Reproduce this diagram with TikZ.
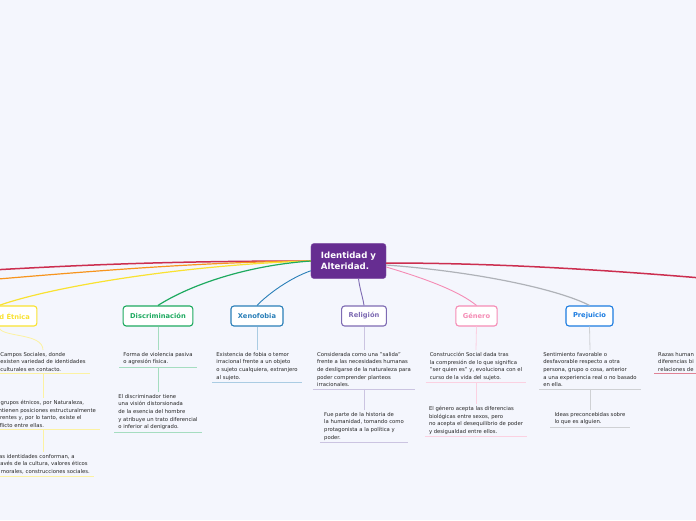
\documentclass[tikz,border=0pt]{standalone}
\usepackage{fontspec}
\setmainfont{DejaVu Sans}
\definecolor{bgcol}{HTML}{F4F6FD}
\definecolor{maincol}{HTML}{662D91}
\definecolor{redcol}{HTML}{CC2E4F}
\definecolor{orangecol}{HTML}{F7941D}
\definecolor{yellowcol}{HTML}{F9E231}
\definecolor{greencol}{HTML}{1EAA60}
\definecolor{bluecol}{HTML}{2A7FB8}
\definecolor{purplecol}{HTML}{7E6BB3}
\definecolor{pinkcol}{HTML}{F58CB5}
\definecolor{graycol}{HTML}{AFB2B8}
\definecolor{prejcol}{HTML}{1C7CE0}
\definecolor{textgray}{HTML}{262626}
\begin{document}
\begin{tikzpicture}[x=1pt,y=-1pt,
  topic/.style={draw=#1, text=#1, fill=white, line width=1.1pt, rounded corners=3pt,
    font=\fontsize{6.7}{8}\selectfont\bfseries, minimum height=20pt, inner xsep=7pt},
  note/.style={anchor=north, align=left, inner xsep=4pt, inner ysep=2pt, text=textgray,
    font=\fontsize{5.3}{7.6}\selectfont},
  link/.style={line width=1.2pt},
  stem/.style={line width=0.8pt}]
\useasboundingbox (0,0) rectangle (696,520);
\fill[bgcol] (0,0) rectangle (696,520);
\clip (0,0) rectangle (696,520);

% main topic
\node[fill=maincol, draw=maincol!80!white, rounded corners=3pt, text=white, align=left,
  font=\fontsize{8.6}{10.5}\selectfont\bfseries, inner xsep=10pt, inner ysep=9pt]
  (center) at (348.5,261) {Identidad y\\Alteridad.};

% off-canvas ends
\coordinate (offleftA) at (-60,273);
\coordinate (offleftB) at (-60,284);
\coordinate (offright) at (780,285);

% subtopics
\node[topic=yellowcol] (etnica) at (-1,316) {Identidad Étnica};
\node[topic=greencol] (disc) at (158,316) {Discriminación};
\node[topic=bluecol] (xeno) at (257,316) {Xenofobia};
\node[topic=purplecol] (reli) at (364,316) {Religión};
\node[topic=pinkcol] (gene) at (476.5,316) {Género};
\node[topic=prejcol] (prej) at (589.5,316) {Prejuicio};

% connectors from the main topic
\draw[link, redcol, line width=1.5pt] (center.west) .. controls (150,261) and (60,266) .. (offleftA);
\draw[link, orangecol] (center.west) .. controls (200,262) and (90,271) .. (offleftB);
\draw[link, yellowcol] (center.west) .. controls (200,264) and (60,284) .. (etnica.north);
\draw[link, greencol] (center.west) .. controls (240,266) and (185,288) .. (disc.north);
\draw[link, bluecol, line width=0.9pt] ([yshift=8pt]center.south west) .. controls (290,278) and (268,294) .. (xeno.north);
\draw[link, purplecol, line width=0.9pt] ([xshift=10pt]center.south) .. controls (360,290) and (363,298) .. (reli.north);
\draw[link, pinkcol, line width=0.9pt] ([yshift=-6pt]center.east) .. controls (430,280) and (460,292) .. (gene.north);
\draw[link, graycol] ([yshift=-4pt]center.east) .. controls (480,272) and (560,290) .. (prej.north);
\draw[link, redcol, line width=1.5pt] ([yshift=-2pt]center.east) .. controls (500,263) and (620,270) .. (offright);

% Identidad Etnica
\node[note] (et1) at (43,350) {Campos Sociales, donde\\existen variedad de identidades\\culturales en contacto.};
\node[note] (et2) at (43,398) {Los grupos étnicos, por Naturaleza,\\mantienen posiciones estructuralmente\\diferentes y, por lo tanto, existe el\\conflicto entre ellas.};
\node[note] (et3) at (43,452) {Las identidades conforman, a\\través de la cultura, valores éticos\\y morales, construcciones sociales.};
\draw[stem, yellowcol!45!white] (etnica.south) .. controls (-1,338) and (43,332) .. (et1.north);
\draw[stem, yellowcol!45!white] (et1.south) -- (et2.north);
\draw[stem, yellowcol!45!white] (et2.south) -- (et3.north);
\foreach \n in {et1,et2,et3}
  \draw[stem, yellowcol!45!white] (\n.south west) -- (\n.south east);

% Discriminacion
\node[note] (d1) at (158,350) {Forma de violencia pasiva\\o agresión física.};
\node[note] (d2) at (158,392) {El discriminador tiene\\una visión distorsionada\\de la esencia del hombre\\y atribuye un trato diferencial\\o inferior al denigrado.};
\draw[stem, greencol!40!white] (disc.south) -- (d1.north);
\draw[stem, greencol!40!white] (d1.south) -- (d2.north);
\foreach \n in {d1,d2}
  \draw[stem, greencol!40!white] (\n.south west) -- (\n.south east);

% Xenofobia
\node[note] (x1) at (257,350) {Existencia de fobia o temor\\irracional frente a un objeto\\o sujeto cualquiera, extranjero\\al sujeto.};
\draw[stem, bluecol!40!white] (xeno.south) -- (x1.north);
\draw[stem, bluecol!40!white] (x1.south west) -- (x1.south east);

% Religion
\node[note] (r1) at (364,350) {Considerada como una "salida"\\frente a las necesidades humanas\\de desligarse de la naturaleza para\\poder comprender planteos\\irracionales.};
\node[note] (r2) at (364,410) {Fue parte de la historia de\\la humanidad, tomando como\\protagonista a la política y\\poder.};
\draw[stem, purplecol!40!white] (reli.south) -- (r1.north);
\draw[stem, purplecol!40!white] (r1.south) -- (r2.north);
\foreach \n in {r1,r2}
  \draw[stem, purplecol!40!white] (\n.south west) -- (\n.south east);

% Genero
\node[note] (g1) at (476,350) {Construcción Social dada tras\\la compresión de lo que significa\\"ser quien es" y, evoluciona con el\\curso de la vida del sujeto.};
\node[note] (g2) at (476,404) {El género acepta las diferencias\\biológicas entre sexos, pero\\no acepta el desequilibrio de poder\\y desigualdad entre ellos.};
\draw[stem, pinkcol!40!white] (gene.south) -- (g1.north);
\draw[stem, pinkcol!40!white] (g1.south) -- (g2.north);
\foreach \n in {g1,g2}
  \draw[stem, pinkcol!40!white] (\n.south west) -- (\n.south east);

% Prejuicio
\node[note] (p1) at (590,350) {Sentimiento favorable o\\desfavorable respecto a otra\\persona, grupo o cosa, anterior\\a una experiencia real o no basado\\en ella.};
\node[note] (p2) at (590,410) {Ideas preconcebidas sobre\\lo que es alguien.};
\draw[stem, graycol!60!white] (prej.south) -- (p1.north);
\draw[stem, graycol!60!white] (p1.south) -- (p2.north);
\foreach \n in {p1,p2}
  \draw[stem, graycol!60!white] (\n.south west) -- (\n.south east);

% right edge
\node[note, anchor=north west] (rz) at (654,350) {Razas human\\diferencias bi\\relaciones de};
\draw[stem, redcol!60!white] (rz.south west) -- ([xshift=40pt]rz.south east);
\end{tikzpicture}
\end{document}
